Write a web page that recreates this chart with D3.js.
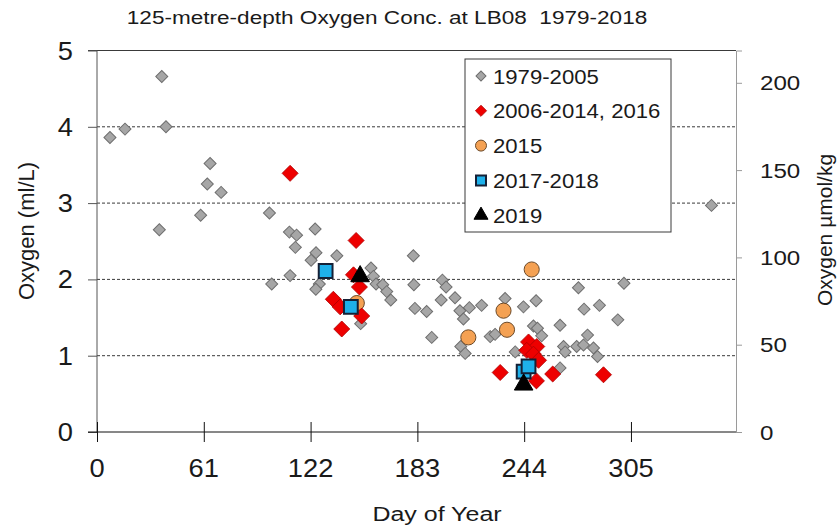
<!DOCTYPE html>
<html><head><meta charset="utf-8">
<script src="https://cdn.jsdelivr.net/npm/d3@7"></script>
<style>
html,body{margin:0;padding:0;background:#fff;}
text{font-family:"Liberation Sans",Arial,sans-serif;fill:#1a1a1a;white-space:pre;}
</style></head>
<body><svg id="chart" width="839" height="527"></svg>
<script>
// ---------- data ----------
const titleText = "125-metre-depth Oxygen Conc. at LB08  1979-2018";
const xTicks = [0, 61, 122, 183, 244, 305];
const yTicks = [0, 1, 2, 3, 4, 5];
const yRightTicks = [0, 50, 100, 150, 200];
const seriesNames = ["1979-2005", "2006-2014, 2016", "2015", "2017-2018", "2019"];

const grayDays = [7.4,16,37,39.4,64.6,63,70.9,59.2,35.6,
  98.5,109.9,114,124.6,113.3,125.1,122.3,137,110.3,99.8,127,125,156.5,157.9,159.4,163.2,165.5,167.8,150.6,
  180.7,181,197.3,199.4,196.6,204.5,181.6,188.3,207.3,212.7,219.7,209.3,191.2,207.8,210.3,233.1,224.6,227.4,
  243.6,250.8,238.9,249.3,251.6,254,264.5,264.5,275,278.2,287,280.2,266.5,267.4,274,277.9,283.6,285.9,297.5,301,351];
const grayVals = [3.86,3.97,4.66,4.0,3.52,3.25,3.14,2.84,2.65,
  2.87,2.62,2.58,2.66,2.42,2.35,2.25,2.31,2.05,1.94,1.94,1.87,2.15,2.04,1.94,1.93,1.84,1.73,1.42,
  2.31,1.93,1.99,1.90,1.73,1.76,1.62,1.58,1.59,1.63,1.66,1.48,1.24,1.12,1.03,1.75,1.25,1.28,
  1.64,1.72,1.05,1.39,1.36,1.26,0.84,1.40,1.89,1.61,1.66,1.27,1.12,1.05,1.12,1.14,1.10,0.99,1.47,1.95,2.97];

const redDays = [110.3,148,146.5,149.9,135,138.9,151.2,139.8,246.5,251.2,245.5,249.3,252.2,230.3,260.3,251,289.3];
const redVals = [3.39,2.51,2.06,1.90,1.74,1.64,1.52,1.35,1.18,1.12,1.07,1.02,0.94,0.78,0.76,0.67,0.75];

const orangeDays = [148.4,248.3,212.1,232.2,234.2];
const orangeVals = [1.69,2.13,1.24,1.59,1.34];

const blueDays = [130.6,145,243.7,246.5];
const blueVals = [2.11,1.64,0.79,0.86];

const blackDays = [150.3,243.7];
const blackVals = [2.04,0.62];

// ---------- chart ----------
const svg = d3.select("#chart");
const x = d3.scaleLinear().domain([0, 365]).range([97, 736]);
const y = d3.scaleLinear().domain([0, 5]).range([432, 50.5]);
const yR = d3.scaleLinear().domain([0, 218.5]).range([432, 50.5]);

function stretchedText(g, px, py, str, size, sx, anchor) {
  return g.append("text")
    .attr("transform", `translate(${px},${py}) scale(${sx},1)`)
    .attr("text-anchor", anchor || "middle")
    .attr("font-size", size)
    .text(str);
}

// gridlines
svg.append("g").selectAll("line").data(yTicks.filter(d => d > 0 && d < 5)).join("line")
  .attr("x1", x(0)).attr("x2", x(365))
  .attr("y1", d => y(d)).attr("y2", d => y(d))
  .attr("stroke", "#3a3a3a").attr("stroke-width", 1).attr("stroke-dasharray", "3,2");
// top border
svg.append("line").attr("x1", 88).attr("x2", x(365)).attr("y1", y(5)).attr("y2", y(5))
  .attr("stroke", "#3a3a3a").attr("stroke-width", 1);

// right axis
const gR = svg.append("g").attr("transform", `translate(${x(365)},0)`)
  .call(d3.axisRight(yR).tickValues(yRightTicks).tickSize(6).tickFormat(""));
gR.select(".domain").attr("stroke", "#9a9a9a");
gR.selectAll(".tick line").attr("stroke", "#9a9a9a");
yRightTicks.forEach(v => stretchedText(svg, 760, yR(v) + 7.5, String(v), 21, 1.15, "start"));

// left axis
const gL = svg.append("g").attr("transform", `translate(${x(0)},0)`)
  .call(d3.axisLeft(y).tickValues(yTicks).tickSize(9).tickFormat(""));
gL.select(".domain").attr("stroke", "#555").attr("d", `M0,${y(5)}V${y(0)}`);
gL.selectAll(".tick line").attr("stroke", "#555");
yTicks.forEach(v => stretchedText(svg, 73, y(v) + 9, String(v), 26, 1.05, "end"));

// bottom axis
const gB = svg.append("g").attr("transform", `translate(0,${y(0)})`)
  .call(d3.axisBottom(x).tickValues(xTicks).tickSize(10).tickFormat(""));
gB.select(".domain").attr("stroke", "#111").attr("d", `M88,0H${x(365)}`);
gB.selectAll(".tick line").attr("stroke", "#111").attr("y1", -10).attr("y2", 10);
xTicks.forEach(v => stretchedText(svg, x(v), 477, String(v), 26, 1.05, "middle"));

// markers
const diamondGray = d3.symbol().type(d3.symbolSquare).size(72);
const diamondRed = d3.symbol().type(d3.symbolSquare).size(128);
const circleOr = d3.symbol().type(d3.symbolCircle).size(180);
const squareBl = d3.symbol().type(d3.symbolSquare).size(190);
const triBk = d3.symbol().type(d3.symbolTriangle).size(150);

const plot = svg.append("g");
plot.selectAll(".g").data(d3.range(grayDays.length)).join("path")
  .attr("d", diamondGray)
  .attr("transform", i => `translate(${x(grayDays[i])},${y(grayVals[i])}) rotate(45)`)
  .attr("fill", "#a6a6a6").attr("stroke", "#6e6e6e").attr("stroke-width", 1);
plot.selectAll(".o").data(d3.range(orangeDays.length)).join("path")
  .attr("d", circleOr)
  .attr("transform", i => `translate(${x(orangeDays[i])},${y(orangeVals[i])})`)
  .attr("fill", "#f4a153").attr("stroke", "#6b4a2a").attr("stroke-width", 1);
plot.selectAll(".r").data(d3.range(redDays.length)).join("path")
  .attr("d", diamondRed)
  .attr("transform", i => `translate(${x(redDays[i])},${y(redVals[i])}) rotate(45)`)
  .attr("fill", "#ee0000").attr("stroke", "#b00000").attr("stroke-width", 0.8);
plot.selectAll(".b").data(d3.range(blueDays.length)).join("path")
  .attr("d", squareBl)
  .attr("transform", i => `translate(${x(blueDays[i])},${y(blueVals[i])})`)
  .attr("fill", "#1eb0ea").attr("stroke", "#152036").attr("stroke-width", 2);
plot.selectAll(".k").data(d3.range(blackDays.length)).join("path")
  .attr("d", triBk)
  .attr("transform", i => `translate(${x(blackDays[i])},${y(blackVals[i])})`)
  .attr("fill", "#000").attr("stroke", "#000");

// legend
const lg = svg.append("g");
lg.append("rect").attr("x", 465).attr("y", 59).attr("width", 206).attr("height", 173)
  .attr("fill", "#fff").attr("stroke", "#3a3a3a").attr("stroke-width", 1);
const legendSyms = [
  {sym: d3.symbol().type(d3.symbolSquare).size(50), rot: 45, fill: "#a6a6a6", stroke: "#6e6e6e", sw: 1},
  {sym: d3.symbol().type(d3.symbolSquare).size(62), rot: 45, fill: "#ee0000", stroke: "#b00000", sw: 0.8},
  {sym: d3.symbol().type(d3.symbolCircle).size(95), rot: 0, fill: "#f4a153", stroke: "#6b4a2a", sw: 1},
  {sym: d3.symbol().type(d3.symbolSquare).size(100), rot: 0, fill: "#1eb0ea", stroke: "#152036", sw: 2},
  {sym: d3.symbol().type(d3.symbolTriangle).size(85), rot: 0, fill: "#000", stroke: "#000", sw: 1}
];
seriesNames.forEach((name, i) => {
  const cy = 76 + i * 34.8;
  const s = legendSyms[i];
  lg.append("path").attr("d", s.sym)
    .attr("transform", `translate(481,${cy}) rotate(${s.rot})`)
    .attr("fill", s.fill).attr("stroke", s.stroke).attr("stroke-width", s.sw);
  stretchedText(lg, 493, cy + 7.5, name, 20.5, 1.08, "start");
});

// titles
stretchedText(svg, 387, 24, titleText, 18.5, 1.22, "middle");
stretchedText(svg, 437, 521, "Day of Year", 20, 1.25, "middle");
svg.append("text").attr("transform", `translate(34,231) rotate(-90)`)
  .attr("text-anchor", "middle").attr("font-size", 22).text("Oxygen (ml/L)");
svg.append("text").attr("transform", `translate(832,230) rotate(-90)`)
  .attr("text-anchor", "middle").attr("font-size", 21).text("Oxygen µmol/kg");
</script></body></html>
